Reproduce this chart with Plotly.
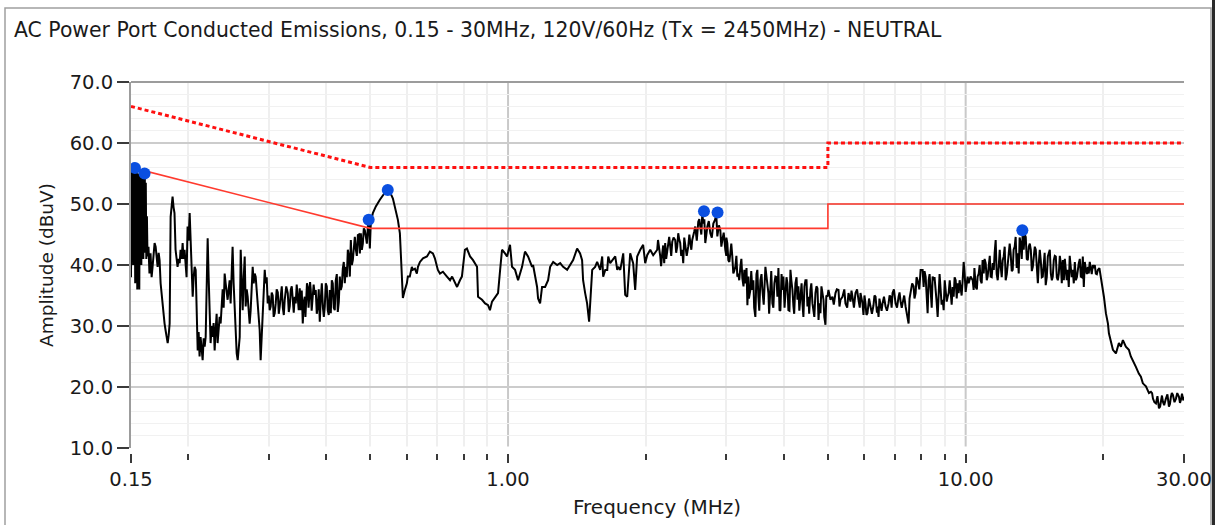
import math
import plotly.graph_objects as go

# ---------------- data ----------------
# Measured trace, NEUTRAL line, split in frequency bands (MHz / dBuV)
freq_a = [0.1500, 0.1504, 0.1508, 0.1512, 0.1516, 0.1520, 0.1524, 0.1528, 0.1532, 0.1536,
          0.1540, 0.1544, 0.1548, 0.1552, 0.1556, 0.1560, 0.1564, 0.1568, 0.1572, 0.1576,
          0.1580, 0.1584, 0.1588, 0.1592, 0.1596, 0.1600, 0.1604, 0.1608, 0.1612, 0.1616,
          0.1620, 0.1625, 0.1630, 0.1638, 0.1646, 0.1655, 0.1664, 0.1672, 0.1680, 0.1689,
          0.1698, 0.1706, 0.1715, 0.1724, 0.1732, 0.1741, 0.1750, 0.1758, 0.1767, 0.1776,
          0.1785, 0.1794, 0.1804, 0.1813, 0.1822, 0.1831, 0.1840, 0.1849, 0.1858, 0.1867,
          0.1877, 0.1886, 0.1896, 0.1906, 0.1916, 0.1925, 0.1935, 0.1945, 0.1954, 0.1964,
          0.1974, 0.1984, 0.1994, 0.2004, 0.2015, 0.2025, 0.2035, 0.2046, 0.2056, 0.2066,
          0.2077, 0.2087, 0.2098, 0.2108, 0.2118, 0.2129, 0.2140, 0.2151, 0.2162, 0.2173,
          0.2184, 0.2195, 0.2206, 0.2217, 0.2228, 0.2239, 0.2251, 0.2262, 0.2273, 0.2285,
          0.2296, 0.2308, 0.2319, 0.2331, 0.2343, 0.2355, 0.2367, 0.2379, 0.2391, 0.2403,
          0.2415, 0.2427, 0.2439, 0.2452, 0.2464, 0.2476, 0.2489, 0.2501, 0.2514, 0.2527,
          0.2540, 0.2553, 0.2566, 0.2579, 0.2592, 0.2605, 0.2618, 0.2631, 0.2645, 0.2658,
          0.2671, 0.2685, 0.2698, 0.2712, 0.2725, 0.2739, 0.2753, 0.2767, 0.2781, 0.2795,
          0.2809, 0.2823, 0.2837, 0.2852, 0.2866, 0.2880, 0.2895, 0.2910, 0.2925, 0.2940,
          0.2954, 0.2969, 0.2984, 0.3000, 0.3014]
amp_a = [38, 55.5, 44, 56, 40, 55.5, 46, 56, 37, 54,
         47, 55.5, 36, 53, 44, 55, 36, 54.5, 45, 55,
         40, 54.5, 43, 55, 41, 54, 43, 54.5, 42, 53.5,
         41, 48, 41.4, 43, 38.6, 41.9, 38, 39.7, 42, 43.6,
         43, 41, 39.7, 42, 40.8, 37, 35, 33.2, 31, 30.4,
         29.3, 28, 27.2, 28.5, 30.4, 47.9, 50.5, 51.2, 49.5, 48.5,
         42.5, 40.5, 39.7, 41, 40.3, 42.5, 41, 43.6, 41, 42.5,
         40.3, 38, 46.3, 44, 48.5, 43, 38, 34.8, 38, 39.7,
         39.2, 33, 26, 29, 25, 28.2, 26, 24.4, 28, 26.6,
         28.2, 36, 44.4, 38, 31.5, 27.2, 30, 28.2, 30.5, 26,
         29.3, 32, 27.2, 29, 31.5, 30.4, 34, 36, 33, 38.6,
         37, 35, 34.3, 36, 37.5, 33.7, 38, 43, 37, 32.6,
         27.2, 25.5, 24.4, 26, 28.2, 42.5, 36, 32.6, 38, 41.4,
         33.2, 36, 34.8, 32, 30.4, 32.6, 36, 39.7, 37, 38.6,
         38.1, 36, 33.7, 31, 29.3, 24.4, 28, 31.5, 36, 39.2,
         37, 38, 33.7, 35, 32.6]

freq_b = [0.3029, 0.3060, 0.3091, 0.3107, 0.3140, 0.3170, 0.3186, 0.3220, 0.3251, 0.3301,
          0.3334, 0.3351, 0.3385, 0.3419, 0.3436, 0.3471, 0.3506, 0.3524, 0.3560, 0.3596,
          0.3620, 0.3651, 0.3680, 0.3706, 0.3740, 0.3781, 0.3800, 0.3839, 0.3878, 0.3897,
          0.3940, 0.3977, 0.3997, 0.4037, 0.4078, 0.4099, 0.4140, 0.4182, 0.4203, 0.4246,
          0.4289, 0.4310, 0.4354, 0.4398, 0.4420, 0.4466, 0.4511, 0.4534, 0.4580, 0.4626,
          0.4650, 0.4697, 0.4744, 0.4768, 0.4816, 0.4865, 0.4890, 0.4940, 0.4965, 0.4989,
          0.5014, 0.5065, 0.5142, 0.5247, 0.5327, 0.5409, 0.5464, 0.5519, 0.5603, 0.5659,
          0.5716, 0.5745, 0.5803, 0.5861, 0.5891]
amp_b = [33.2, 35, 32.1, 33.7, 35.5, 33.2, 34.8, 33, 34.3, 35.4,
         33.2, 35.9, 34, 34.8, 33.7, 34.8, 36.2, 32.6, 30.4, 34.8,
         36, 36.4, 35, 35.9, 34.5, 35.1, 35.9, 33.2, 30.7, 34.3,
         33, 33.2, 37, 32.6, 35.9, 32.1, 37, 32.6, 37.5, 32.3,
         38.1, 35.9, 39.4, 37, 39.7, 42.5, 38.1, 44.1, 40.8, 44.6,
         42.5, 44.9, 41.9, 45.2, 43.5, 45.7, 44.6, 46.3, 47.3, 42.7,
         47.1, 48.5, 49.6, 50.7, 51.5, 52.1, 52.3, 52.0, 50.9, 49.5,
         48.2, 47.4, 45.2, 39.2, 34.6]

freq_c = [0.595, 0.6010, 0.6040, 0.610, 0.6163, 0.6194, 0.626, 0.632, 0.6356, 0.642,
          0.6518, 0.6650, 0.675, 0.6852, 0.692, 0.6990, 0.7025, 0.710, 0.7206, 0.7353,
          0.747, 0.7547, 0.766, 0.7738, 0.785, 0.7928, 0.805, 0.8131, 0.826, 0.8385,
          0.8556, 0.8599, 0.8774, 0.891, 0.9043, 0.913, 0.9226, 0.937, 0.9509, 0.961,
          0.9702, 0.985, 0.9950, 1.010, 1.0203, 1.036, 1.0517, 1.0731, 1.089, 1.1060,
          1.1286, 1.1343, 1.1574, 1.1632, 1.175, 1.1867, 1.205, 1.2233, 1.236, 1.2550,
          1.2803, 1.300, 1.3194, 1.3463, 1.367, 1.3875, 1.4156, 1.437, 1.4516, 1.4589,
          1.474, 1.4886, 1.5036, 1.512, 1.5272, 1.550, 1.5656, 1.590, 1.6060, 1.6140,
          1.631, 1.6474, 1.6556, 1.672, 1.6889, 1.715, 1.7324, 1.7411, 1.759, 1.7854,
          1.803, 1.8214, 1.849, 1.8767, 1.896, 1.9150, 1.945, 1.9735, 1.994, 2.0139,
          2.045, 2.0758, 2.1182, 2.1268]
amp_c = [35.9, 37.0, 38.1, 38.1, 39.7, 39.2, 39.4, 38.6, 39.7, 40.5,
         41.1, 41.4, 42.2, 41.9, 41.1, 39.7, 39.2, 38.6, 38.9, 38.1,
         37.5, 38.1, 37.0, 36.4, 37.5, 38.1, 42.5, 42.7, 41.4, 40.8,
         39.7, 34.8, 34.3, 33.7, 33.4, 32.6, 34.0, 34.8, 35.4, 39.2,
         42.5, 41.9, 41.4, 43.3, 39.7, 39.2, 37.5, 39.7, 42.2, 41.4,
         39.7, 40.0, 36.4, 34.5, 33.7, 36.4, 36.4, 37.5, 39.7, 40.5,
         40.0, 40.3, 39.7, 39.2, 40.0, 40.8, 42.7, 41.9, 40.8, 37.5,
         35.4, 33.7, 30.7, 33.7, 39.2, 39.7, 40.5, 39.2, 41.4, 38.1,
         39.2, 39.2, 41.4, 40.3, 40.8, 41.4, 39.2, 39.7, 39.2, 41.9,
         35.1, 34.8, 41.9, 40.3, 35.9, 41.4, 42.5, 43.3, 40.3, 41.6,
         42.5, 41.6, 42.5, 44.1]

freq_d = [2.151, 2.1726, 2.194, 2.205, 2.2389, 2.262, 2.2846, 2.319, 2.3427, 2.3545,
          2.378, 2.4023, 2.4145, 2.439, 2.4762, 2.501, 2.5264, 2.5392, 2.565, 2.6043,
          2.631, 2.6578, 2.6713, 2.698, 2.7255, 2.767, 2.8094, 2.8520, 2.8665, 2.910,
          2.9395, 2.984, 3.0143, 3.0295, 3.060, 3.0909, 3.1065, 3.138, 3.170, 3.1860,
          3.219, 3.2516, 3.284, 3.301, 3.3347, 3.3515, 3.385, 3.4193, 3.4366, 3.471,
          3.5061, 3.524, 3.560, 3.5962, 3.651, 3.688, 3.7063, 3.744, 3.7818, 3.820,
          3.839, 3.878, 3.8978, 3.937, 3.977, 3.997, 4.037, 4.078, 4.099, 4.141,
          4.183, 4.204, 4.246, 4.290, 4.311, 4.355, 4.399, 4.444, 4.466, 4.511,
          4.534, 4.579, 4.626, 4.649, 4.696, 4.744, 4.792, 4.816, 4.865, 4.890,
          4.939, 4.989, 5.014, 5.065, 5.116, 5.194, 5.274, 5.327, 5.381, 5.462,
          5.546, 5.602, 5.658, 5.744, 5.832, 5.891, 5.950, 5.980, 6.041, 6.102,
          6.195, 6.289, 6.354, 6.418, 6.451, 6.516, 6.582, 6.683, 6.785, 6.853,
          6.922, 7.028, 7.136, 7.208, 7.280, 7.391, 7.504, 7.580, 7.695, 7.774,
          7.852, 7.972]
amp_d = [41.4, 41.9, 40.3, 43.6, 44.1, 43.0, 43.8, 44.1, 43.0, 45.2,
         43.6, 42.5, 40.3, 43.3, 43.0, 43.8, 44.1, 45.2, 46.3, 47.1,
         46.3, 48.5, 46.8, 43.6, 46.3, 45.2, 46.8, 48.2, 44.7, 45.7,
         44.1, 42.5, 43.6, 40.8, 41.9, 41.4, 38.6, 39.7, 38.1, 38.6,
         39.7, 37.8, 39.2, 37.0, 33.4, 38.1, 35.9, 35.9, 37.5, 31.5,
         39.2, 34.8, 37.5, 35.9, 39.7, 36.5, 35.4, 37.0, 33.7, 37.0,
         38.1, 34.8, 39.5, 32.6, 35.9, 38.1, 35.4, 37.0, 32.6, 39.2,
         35.9, 33.2, 37.0, 34.3, 36.5, 35.4, 33.7, 36.5, 37.5, 33.2,
         34.8, 35.9, 33.7, 32.6, 35.4, 36.2, 33.7, 32.1, 35.4, 34.3,
         30.2, 34.8, 35.9, 34.3, 34.8, 35.4, 35.9, 34.3, 34.8, 33.7,
         35.4, 34.0, 34.8, 35.4, 34.3, 35.4, 33.7, 31.8, 33.7, 32.1,
         33.2, 33.4, 34.8, 33.2, 31.5, 33.2, 33.7, 33.2, 33.7, 34.8,
         35.4, 33.7, 34.8, 34.0, 33.7, 33.2, 30.4, 35.9, 36.5, 35.4,
         37.5, 39.2]

freq_e = [8.053, 8.094, 8.176, 8.258, 8.300, 8.384, 8.469, 8.512, 8.598, 8.686,
          8.730, 8.818, 8.907, 8.952, 9.042, 9.134, 9.180, 9.273, 9.367, 9.414,
          9.509, 9.605, 9.653, 9.750, 9.850, 9.900, 10.00, 10.10, 10.15, 10.25,
          10.36, 10.41, 10.52, 10.62, 10.68, 10.78, 10.89, 10.95, 11.06, 11.17,
          11.23, 11.34, 11.46, 11.52, 11.63, 11.75, 11.81, 11.93, 12.05, 12.11,
          12.23, 12.36, 12.42, 12.54, 12.67, 12.73, 12.86, 12.99, 13.06, 13.19,
          13.33, 13.39, 13.53, 13.67, 13.74, 13.88, 14.02, 14.09, 14.23, 14.38,
          14.45, 14.59, 14.74, 14.81, 14.96, 15.12, 15.19, 15.35, 15.50, 15.58,
          15.74, 15.90, 15.98, 16.14, 16.31, 16.39, 16.55, 16.72, 16.80, 16.97,
          17.14, 17.23, 17.41, 17.58, 17.67, 17.85, 18.03, 18.12, 18.31, 18.49,
          18.58, 18.77, 18.96, 19.06, 19.25, 19.45, 19.75, 19.95, 20.05, 20.25,
          20.46, 20.56, 20.77, 20.98, 21.30, 21.62, 21.84, 22.06, 22.39, 22.73,
          22.96, 23.19, 23.55, 23.90, 24.15, 24.39, 24.77, 25.15, 25.40, 25.66,
          26.05, 26.45, 26.71, 26.98, 27.39, 27.81, 28.09, 28.37, 28.81, 29.25,
          29.54, 29.84, 30.0]
amp_e = [39.2, 36.4, 38.1, 32.1, 37.5, 35.9, 38.1, 37.5, 34.8, 31.5,
         36.4, 35.9, 34.3, 32.6, 35.9, 34.8, 35.4, 35.9, 36.4, 34.8,
         37.5, 37.0, 35.4, 36.2, 37.5, 40.5, 35.6, 38.1, 37.0, 38.1,
         37.5, 35.9, 36.4, 38.1, 38.6, 37.5, 40.8, 38.6, 40.3, 38.1,
         39.7, 38.1, 40.3, 39.2, 44.1, 37.5, 39.7, 39.7, 40.8, 41.4,
         37.5, 40.3, 40.8, 41.9, 39.2, 42.5, 44.6, 41.9, 38.6, 43.6,
         45.7, 42.5, 44.6, 40.8, 43.0, 42.5, 39.7, 41.4, 42.5, 37.0,
         40.3, 40.8, 38.1, 40.3, 36.7, 41.4, 41.9, 38.6, 38.1, 40.8,
         41.4, 37.5, 38.6, 40.3, 40.8, 37.5, 38.1, 39.2, 36.4, 38.6,
         39.2, 37.0, 37.5, 39.7, 40.3, 38.1, 41.4, 36.4, 39.2, 39.7,
         38.6, 39.2, 40.0, 39.5, 38.6, 39.2, 38.1, 36.4, 34.8, 32.1,
         30.4, 28.8, 27.2, 26.1, 25.5, 27.2, 26.6, 27.7, 26.6, 26.1,
         25.0, 24.4, 23.3, 22.2, 21.7, 20.6, 20.1, 19.0, 19.2, 18.1,
         17.3, 16.5, 17.9, 17.6, 18.1, 16.8, 18.4, 18.7, 18.1, 18.4,
         17.9, 18.1, 18.4]

# Extra sweep points read in the densest (noisy) stretches of the trace
noise_f_1 = [0.3045, 0.3075, 0.3122, 0.3155, 0.3203, 0.3236, 0.3276, 0.3318, 0.3368, 0.3402,
             0.3453, 0.3488, 0.3542, 0.3578, 0.3608, 0.3636, 0.3665, 0.3693, 0.3723, 0.3760,
             0.3820, 0.3858, 0.3918, 0.3958, 0.4017, 0.4057, 0.4120, 0.4161, 0.4225, 0.4268,
             0.4332, 0.4376, 0.4443, 0.4488, 0.4557, 0.4603, 0.4673, 0.4720, 0.4792, 0.4840,
             0.4915]
noise_a_1 = [35.5, 31.5, 36, 32, 36.5, 31.8, 36.5, 32.3, 36.5, 32.2,
             36.8, 32.6, 35.8, 34, 31.5, 37, 33, 37.2, 32.5, 36.8,
             32, 36, 37, 31.5, 36.5, 31.8, 37.5, 33, 38.5, 34,
             36.5, 40.5, 38, 41.5, 40, 43.5, 41.5, 45, 42.5, 46,
             43.5]
noise_f_2 = [2.16, 2.183, 2.216, 2.25, 2.273, 2.30, 2.33, 2.366, 2.39, 2.427,
             2.457, 2.49, 2.515, 2.552, 2.585, 2.618, 2.645, 2.685, 2.711, 2.746,
             2.788, 2.83, 2.89, 2.925, 2.96, 2.999]
noise_a_2 = [39.8, 43.2, 41, 44.6, 41.5, 44.5, 42, 44.2, 41.5, 44.5,
             41.5, 45, 42.5, 45.5, 44, 47.5, 45, 47.5, 44.8, 47.2,
             44.5, 47.3, 46.5, 43, 45.3, 41.5]
noise_f_3 = [3.00, 3.045, 3.075, 3.12, 3.155, 3.20, 3.235, 3.27, 3.32, 3.36,
             3.40, 3.45, 3.49, 3.54, 3.58, 3.62, 3.67, 3.72, 3.76, 3.80,
             3.86, 3.92, 3.96, 4.02, 4.06, 4.12, 4.16, 4.22, 4.27, 4.33,
             4.38, 4.42, 4.49, 4.55, 4.60, 4.67, 4.72, 4.77, 4.84, 4.91,
             4.96]
noise_a_3 = [44.5, 40.5, 43.5, 39, 41.5, 37.5, 41, 36.5, 39.5, 34.5,
             39, 33, 38.5, 32.5, 38.5, 33.5, 38, 32, 39, 33,
             38, 32.5, 38.5, 33, 38, 32.5, 37.5, 32, 38, 32.5,
             37, 31.5, 37.5, 32, 37, 31.5, 36.5, 31, 36.5, 31.5,
             35]
noise_f_4 = [5.15, 5.23, 5.30, 5.43, 5.51, 5.63, 5.70, 5.79, 5.87, 6.01,
             6.07, 6.15, 6.24, 6.32, 6.40, 6.48, 6.55, 6.63, 6.73, 6.82,
             6.89, 6.97, 7.08, 7.17, 7.25, 7.34, 7.45, 7.54, 7.64, 7.73,
             7.81, 7.92]
noise_a_4 = [33.5, 36, 33.2, 36, 33, 35.8, 33, 36, 33, 35,
             31.8, 34.5, 32, 35, 32.2, 34.5, 32.5, 34.8, 32.5, 35,
             33, 36, 33, 35.5, 33, 35, 32, 34.5, 37, 34.5,
             38, 36]
noise_f_5 = [8.13, 8.22, 8.34, 8.43, 8.55, 8.64, 8.77, 8.86, 9.00, 9.09,
             9.23, 9.32, 9.46, 9.56, 9.70, 9.80, 9.95]
noise_a_5 = [39, 34.5, 38.5, 33, 38, 34, 38.5, 33.5, 37.5, 34,
             37.5, 33.5, 38, 34.5, 37.5, 35, 38.5]
noise_f_6 = [10.45, 10.58, 10.73, 10.84, 11.00, 11.12, 11.29, 11.40, 11.57, 11.69,
             11.87, 11.99, 12.17, 12.30, 12.48, 12.61, 12.80, 12.93, 13.12, 13.26,
             13.46, 13.60, 13.81, 13.95, 14.16, 14.31, 14.52, 14.67, 14.88, 15.04,
             15.27, 15.43, 15.66, 15.82, 16.06, 16.22, 16.47, 16.63, 16.88, 17.05,
             17.32, 17.50, 17.76, 17.94, 18.21, 18.40, 18.67, 18.86, 19.15, 19.35,
             19.60]
noise_a_6 = [39.5, 36, 40, 37, 41, 37.5, 41.5, 38, 42, 38.5,
             42.5, 38, 43, 38.5, 43.5, 39, 43, 39.5, 44.5, 41,
             45, 41, 43.5, 39, 43, 38.5, 42.5, 38, 42, 38,
             42.5, 37.5, 41.5, 38, 41.5, 37, 41, 37.5, 41.5, 38,
             40.5, 38, 41, 38, 40.5, 38.5, 40.5, 38.5, 40, 38.5,
             39.5]
noise_f_7 = [25.55, 25.85, 26.25, 26.6, 26.85, 27.15, 27.6, 27.95, 28.22, 28.6,
             29.0, 29.4, 29.7, 29.92]
noise_a_7 = [19, 17.5, 18.5, 16.8, 18.6, 17, 18.8, 17.2, 19, 17.5,
             19, 17.4, 18.9, 17.8]

# Limit lines (MHz / dBuV)
avg_limit_freq = [0.15, 0.5, 5.0, 5.0, 30.0]
avg_limit_db = [56.0, 46.0, 46.0, 50.0, 50.0]
qp_limit_freq = [0.15, 0.5, 5.0, 5.0, 30.0]
qp_limit_db = [66.0, 56.0, 56.0, 60.0, 60.0]

# Peak markers
peak_freq = [0.153, 0.1606, 0.496, 0.546, 2.68, 2.87, 13.3]
peak_db = [55.9, 55.0, 47.4, 52.3, 48.8, 48.6, 45.7]

# Axis ticks
x_major_vals = [0.15, 1.0, 10.0, 30.0]
x_major_text = ["0.15", "1.00", "10.00", "30.00"]
x_minor_vals = [0.2, 0.3, 0.4, 0.5, 0.6, 0.7, 0.8, 0.9,
                2, 3, 4, 5, 6, 7, 8, 9, 20]
x_decades = [1.0, 10.0]
y_min, y_max = 10, 70

title_text = "AC Power Port Conducted Emissions, 0.15 - 30MHz, 120V/60Hz (Tx = 2450MHz) - NEUTRAL"

# ---------------- build ----------------
groups = [(freq_a, amp_a), (freq_b, amp_b), (freq_c, amp_c), (freq_d, amp_d), (freq_e, amp_e),
          (noise_f_1, noise_a_1), (noise_f_2, noise_a_2), (noise_f_3, noise_a_3),
          (noise_f_4, noise_a_4), (noise_f_5, noise_a_5), (noise_f_6, noise_a_6),
          (noise_f_7, noise_a_7)]
pairs = []
for fl, al in groups:
    assert len(fl) == len(al), (len(fl), len(al))
    pairs += list(zip(fl, al))
pairs.sort(key=lambda p: p[0])
trace_f = [p[0] for p in pairs]
trace_a = [p[1] for p in pairs]

W, H = 1215, 525
ML, MR, MT, MB = 131, 31, 82, 72
PW, PH = W - ML - MR, H - MT - MB


def px(x):
    return (x - ML) / PW


def py(y):
    return (H - MB - y) / PH


FONT = "DejaVu Sans"
TXT = "#1a1a1a"

fig = go.Figure()
fig.add_trace(go.Scatter(x=trace_f, y=trace_a, mode="lines",
                         line=dict(color="black", width=2), hoverinfo="x+y"))
fig.add_trace(go.Scatter(x=avg_limit_freq, y=avg_limit_db, mode="lines",
                         line=dict(color="#ff3a2e", width=1.6)))
fig.add_trace(go.Scatter(x=qp_limit_freq, y=qp_limit_db, mode="lines",
                         line=dict(color="#ff1010", width=3, dash="4px,3px")))
fig.add_trace(go.Scatter(x=peak_freq, y=peak_db, mode="markers",
                         marker=dict(color="#0a4fe0", size=12, line=dict(width=0))))

shapes = []
for d in x_decades:
    shapes.append(dict(type="line", xref="x", yref="y domain", x0=d, x1=d, y0=0, y1=1,
                       line=dict(color="#c9c9c9", width=2), layer="below"))
# hide the gridline at the bottom of the value range (not drawn in the original)
shapes.append(dict(type="line", xref="x domain", yref="y", x0=0.002, x1=1, y0=y_min, y1=y_min,
                   line=dict(color="white", width=3), layer="above"))
# top border of plot area
shapes.append(dict(type="line", xref="x domain", yref="y domain", x0=0, x1=1, y0=1, y1=1,
                   line=dict(color="#9c9c9c", width=2), layer="above"))
# outer group frame
shapes.append(dict(type="rect", xref="paper", yref="paper",
                   x0=px(5), x1=px(1211), y0=py(560), y1=py(8),
                   line=dict(color="#a0a0a0", width=1.5), layer="below"))
shapes.append(dict(type="line", xref="paper", yref="paper",
                   x0=px(1213.5), x1=px(1213.5), y0=py(560), y1=py(0),
                   line=dict(color="#2a2a2a", width=3)))

annotations = [
    dict(text=title_text, xref="paper", yref="paper", x=px(12), y=py(30),
         xanchor="left", yanchor="middle", showarrow=False,
         font=dict(family=FONT, size=20.4, color=TXT)),
    dict(text="Amplitude (dBuV)", xref="paper", yref="paper", x=px(46), y=py(265),
         xanchor="center", yanchor="middle", textangle=-90, showarrow=False,
         font=dict(family=FONT, size=18.5, color=TXT)),
    dict(text="Frequency (MHz)", xref="paper", yref="paper", x=px(657), y=py(507),
         xanchor="center", yanchor="middle", showarrow=False,
         font=dict(family=FONT, size=20, color=TXT)),
]

fig.update_layout(
    width=W, height=H, autosize=False,
    margin=dict(l=ML, r=MR, t=MT, b=MB, pad=0, autoexpand=False),
    paper_bgcolor="white", plot_bgcolor="white",
    showlegend=False,
    font=dict(family=FONT, size=19, color=TXT),
    shapes=shapes,
    annotations=annotations,
    xaxis=dict(
        type="log", range=[math.log10(0.15), math.log10(30.0)],
        tickmode="array", tickvals=x_major_vals, ticktext=x_major_text,
        ticks="outside", ticklen=9, tickwidth=2, tickcolor="#3a3a3a",
        showgrid=False, zeroline=False, showline=False, automargin=False,
        anchor="free", position=0,
        tickfont=dict(family=FONT, size=19.5, color=TXT),
        minor=dict(tickmode="array", tickvals=x_minor_vals, ticks="outside", ticklen=6,
                   tickwidth=2, tickcolor="#3a3a3a", showgrid=True,
                   gridcolor="#efefef", gridwidth=1.5),
    ),
    yaxis=dict(
        range=[y_min, y_max], tick0=10, dtick=10, tickformat=".1f",
        domain=[5 / PH, 1], automargin=False,
        ticks="outside", ticklen=12, tickwidth=1.5, tickcolor="#3a3a3a",
        showgrid=True, gridcolor="#cccccc", gridwidth=1.5,
        zeroline=False, showline=True, linecolor="#9c9c9c", linewidth=2,
        tickfont=dict(family=FONT, size=19.5, color=TXT),
        minor=dict(dtick=2, showgrid=True, gridcolor="#f1f1f1", gridwidth=1),
    ),
)

fig.write_html("out.html", config={"displayModeBar": False, "responsive": False},
               post_script="document.body.style.margin='0';")
